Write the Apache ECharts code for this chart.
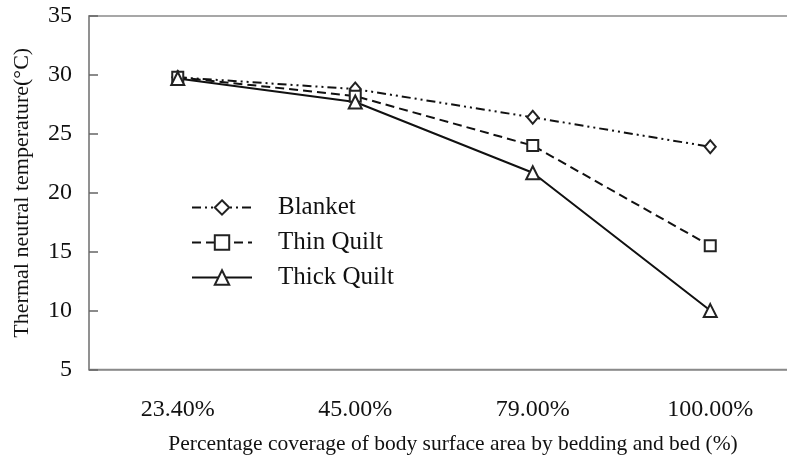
<!DOCTYPE html>
<html>
<head>
<meta charset="utf-8">
<script src="https://cdn.jsdelivr.net/npm/echarts@6/dist/echarts.min.js"></script>
<style>html,body{margin:0;padding:0;background:#fff;overflow:hidden;width:787px;height:464px;}#c{width:799px;height:464px;}</style>
</head>
<body>
<div id="c"></div>
<script>
const categories = ['23.40%', '45.00%', '79.00%', '100.00%'];
const blanket = [29.8, 28.8, 26.4, 23.9];
const thinQuilt = [29.8, 28.2, 24.0, 15.5];
const thickQuilt = [29.7, 27.7, 21.7, 10.0];
const yTicks = [5, 10, 15, 20, 25, 30, 35];

const FONT = "'Liberation Serif', 'Times New Roman', serif";
const chart = echarts.init(document.getElementById('c'));

function mk(name, data, symbol, size, lineType) {
  return {
    name: name, type: 'line', data: data,
    symbol: symbol, symbolSize: size, showSymbol: true,
    lineStyle: { color: '#111', width: 2, type: lineType },
    itemStyle: { color: '#fff', borderColor: '#222', borderWidth: 2 },
    emphasis: { disabled: true },
    z: 3
  };
}

chart.setOption({
  animation: false,
  backgroundColor: '#fff',
  grid: { left: 89, top: 16, right: 0, bottom: 94.5, show: true, borderColor: '#8a8a8a', borderWidth: 1.5, backgroundColor: 'transparent' },
  legend: {
    orient: 'vertical', left: 186, top: 190,
    itemWidth: 60, itemHeight: 18, itemGap: 10,
    textStyle: { fontFamily: FONT, fontSize: 25, color: '#111', padding: [0, 0, 0, 21] },
    data: ['Blanket', 'Thin Quilt', 'Thick Quilt']
  },
  xAxis: {
    type: 'category', data: categories, boundaryGap: true,
    axisLine: { lineStyle: { color: '#8a8a8a', width: 1.5 } },
    axisTick: { inside: true, length: 9, lineStyle: { color: '#666', width: 1.5 } },
    axisLabel: { fontFamily: FONT, fontSize: 24, color: '#111', margin: 28 },
    name: 'Percentage coverage of body surface area by bedding and bed (%)',
    nameLocation: 'middle', nameGap: 64,
    nameTextStyle: { fontFamily: FONT, fontSize: 21.5, color: '#111', padding: [0, 0, 0, 18] }
  },
  yAxis: {
    type: 'value', min: yTicks[0], max: yTicks[yTicks.length - 1], interval: 5,
    splitLine: { show: false },
    axisLine: { show: true, lineStyle: { color: '#8a8a8a', width: 1.5 } },
    axisTick: { show: true, inside: true, length: 9, lineStyle: { color: '#666', width: 1.5 } },
    axisLabel: { fontFamily: FONT, fontSize: 24, color: '#111', margin: 17 },
    name: 'Thermal neutral temperature(°C)',
    nameLocation: 'middle', nameGap: 56,
    nameTextStyle: { fontFamily: FONT, fontSize: 22, color: '#111' }
  },
  series: [
    mk('Blanket', blanket, 'diamond', [11, 13], [9, 4, 2, 4, 2, 4]),
    mk('Thin Quilt', thinQuilt, 'rect', 11, [9, 5]),
    mk('Thick Quilt', thickQuilt, 'triangle', 13, 'solid')
  ]
});
</script>
</body>
</html>
